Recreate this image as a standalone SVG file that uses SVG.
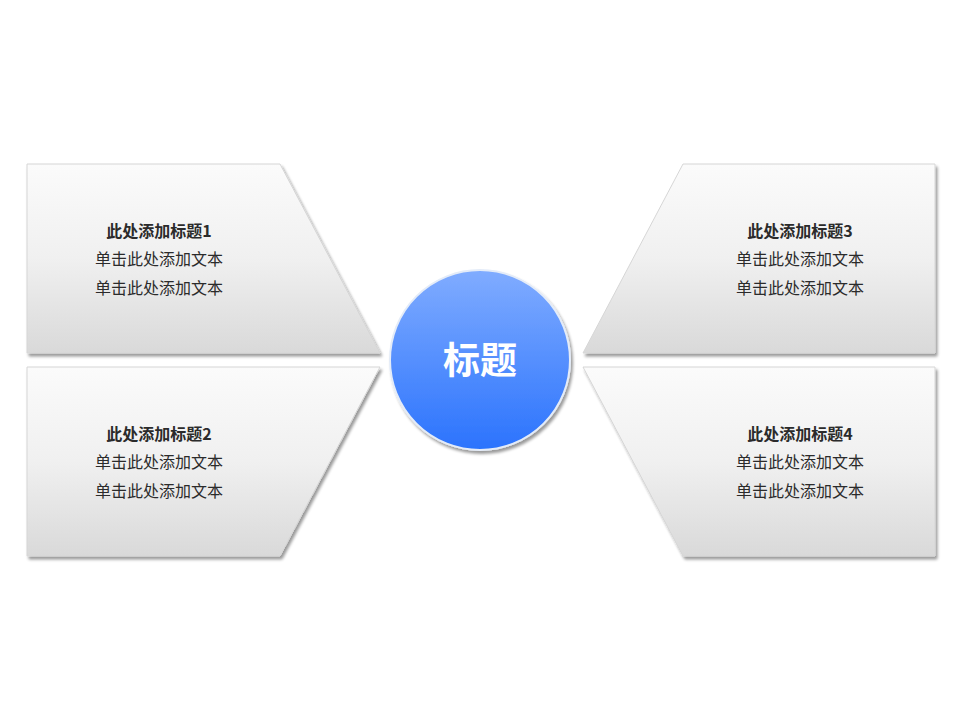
<svg xmlns="http://www.w3.org/2000/svg" width="960" height="720" viewBox="0 0 960 720">
<defs>
<linearGradient id="gGray" x1="0" y1="0" x2="0" y2="1">
<stop offset="0" stop-color="#fbfbfb"/>
<stop offset="0.5" stop-color="#f0f0f0"/>
<stop offset="1" stop-color="#d9d9d9"/>
</linearGradient>
<linearGradient id="gBlue" x1="0" y1="0" x2="0" y2="1">
<stop offset="0" stop-color="#80acff"/>
<stop offset="1" stop-color="#2b73fd"/>
</linearGradient>
<filter id="sh" x="-10%" y="-10%" width="125%" height="125%">
<feGaussianBlur in="SourceAlpha" stdDeviation="1.5"/>
<feOffset dx="2" dy="3" result="b"/>
<feComponentTransfer><feFuncA type="linear" slope="0.4"/></feComponentTransfer>
<feMerge><feMergeNode/><feMergeNode in="SourceGraphic"/></feMerge>
</filter>
</defs>
<style>
.box{fill:url(#gGray);stroke:#d6d6d6;stroke-width:1;filter:url(#sh)}
.t{font-family:"Noto Sans CJK SC","Liberation Serif",serif;font-size:16px;fill:#2b2b2b;text-anchor:middle}
.h{font-weight:bold}
.c{font-family:"Noto Sans CJK SC","Liberation Sans",sans-serif;font-size:37px;font-weight:bold;fill:#ffffff;text-anchor:middle}
</style>
<rect width="960" height="720" fill="#ffffff"/>
<g id="connectors"/>
<g id="node1">
<polygon class="box" points="27,164 280,164 380,353 27,353"/>
<text class="t h" x="159" y="237">此处添加标题1</text>
<text class="t" x="159" y="265">单击此处添加文本</text>
<text class="t" x="159" y="294">单击此处添加文本</text>
</g>
<g id="node2">
<polygon class="box" points="27,367 380,367 280,556 27,556"/>
<text class="t h" x="159" y="440">此处添加标题2</text>
<text class="t" x="159" y="468">单击此处添加文本</text>
<text class="t" x="159" y="497">单击此处添加文本</text>
</g>
<g id="node3">
<polygon class="box" points="683,164 935,164 935,353 583,353"/>
<text class="t h" x="800" y="237">此处添加标题3</text>
<text class="t" x="800" y="265">单击此处添加文本</text>
<text class="t" x="800" y="294">单击此处添加文本</text>
</g>
<g id="node4">
<polygon class="box" points="583,367 935,367 935,556 683,556"/>
<text class="t h" x="800" y="440">此处添加标题4</text>
<text class="t" x="800" y="468">单击此处添加文本</text>
<text class="t" x="800" y="497">单击此处添加文本</text>
</g>
<g id="center">
<circle cx="480" cy="360" r="90" fill="url(#gBlue)" stroke="#e4ecf8" stroke-width="2" filter="url(#sh)"/>
<text class="c" x="480" y="374">标题</text>
</g>
</svg>
